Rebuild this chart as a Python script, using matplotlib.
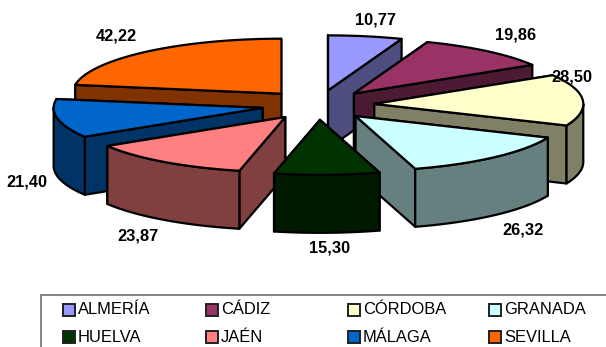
import numpy as np
import matplotlib
matplotlib.use("Agg")
import matplotlib.pyplot as plt
from matplotlib.colors import to_rgb
from matplotlib.patches import Polygon, Rectangle

plt.rcParams['font.family'] = ['Liberation Sans', 'DejaVu Sans']

provinces = ["ALMERÍA", "CÁDIZ", "CÓRDOBA", "GRANADA", "HUELVA", "JAÉN", "MÁLAGA", "SEVILLA"]
values = [10.77, 19.86, 28.50, 26.32, 15.30, 23.87, 21.40, 42.22]
labels = ["10,77", "19,86", "28,50", "26,32", "15,30", "23,87", "21,40", "42,22"]
colors = ["#9999FF", "#993366", "#FFFFCC", "#CCFFFF", "#003300", "#FF8080", "#0066CC", "#FF6600"]

# layout, in image pixels
CX, CY = 318, 105
RX, RY = 209, 55
DEPTH = 58
EXPLODE = 0.27
label_pos = [(376, 20), (516, 35), (572, 77), (523, 230), (330, 248), (138, 236), (27, 182), (116, 36)]
draw_order = [7, 0, 1, 2, 6, 3, 5, 4]
LW = 1.6


def arc(apex, t0, t1):
    """Points on the outer rim between two angles (degrees clockwise from top)."""
    t = np.radians(np.linspace(t0, t1, 60))
    return np.column_stack([apex[0] + RX * np.sin(t), apex[1] - RY * np.cos(t)])


def extrude(rim):
    """Wall polygon hanging below a run of rim points."""
    return np.vstack([rim, rim[::-1] + [0, DEPTH]])


def draw_slice(ax, t0, t1, face):
    mid = np.radians((t0 + t1) / 2)
    apex = np.array([CX + EXPLODE * RX * np.sin(mid), CY - EXPLODE * RY * np.cos(mid)])
    side = tuple(c * 0.5 for c in to_rgb(face))
    rim = arc(apex, t0, t1)

    # radial walls, back one first
    walls = [np.vstack([apex, rim[0]]), np.vstack([apex, rim[-1]])]
    walls.sort(key=lambda w: w[1][1])
    for w in walls:
        ax.add_patch(Polygon(extrude(w), fc=side, ec="black", lw=LW, joinstyle="round"))

    # outer wall, only the part of the rim that faces the viewer
    lo, hi = max(t0, 90), min(t1, 270)
    if lo < hi:
        ax.add_patch(Polygon(extrude(arc(apex, lo, hi)), fc=side, ec="black", lw=LW, joinstyle="round"))

    ax.add_patch(Polygon(np.vstack([apex, rim]), fc=face, ec="black", lw=LW, joinstyle="round"))


fig = plt.figure(figsize=(6.06, 3.47), dpi=100)
ax = fig.add_axes([0, 0, 1, 1])
ax.set_xlim(0, 606)
ax.set_ylim(347, 0)
ax.axis("off")

edges = np.concatenate([[0], np.cumsum(values)]) / sum(values) * 360
for i in draw_order:
    draw_slice(ax, edges[i], edges[i + 1], colors[i])

for text, (x, y) in zip(labels, label_pos):
    ax.text(x, y, text, ha="center", va="center", fontsize=11.8, fontweight="bold", color="black")

# legend box runs off the right and bottom of the picture
ax.add_patch(Rectangle((41, 295), 600, 100, fc="white", ec="#707070", lw=1.2, clip_on=True))
legend_x = [63, 206, 348, 489]
legend_y = [310, 337]
for i, name in enumerate(provinces):
    x = legend_x[i % 4]
    y = legend_y[i // 4]
    ax.add_patch(Rectangle((x, y - 6), 12, 12, fc=colors[i], ec="#202020", lw=1.4))
    ax.text(x + 15, y, name, ha="left", va="center", fontsize=11.9, color="black")

fig.savefig("out.png", dpi=100, facecolor="white")
